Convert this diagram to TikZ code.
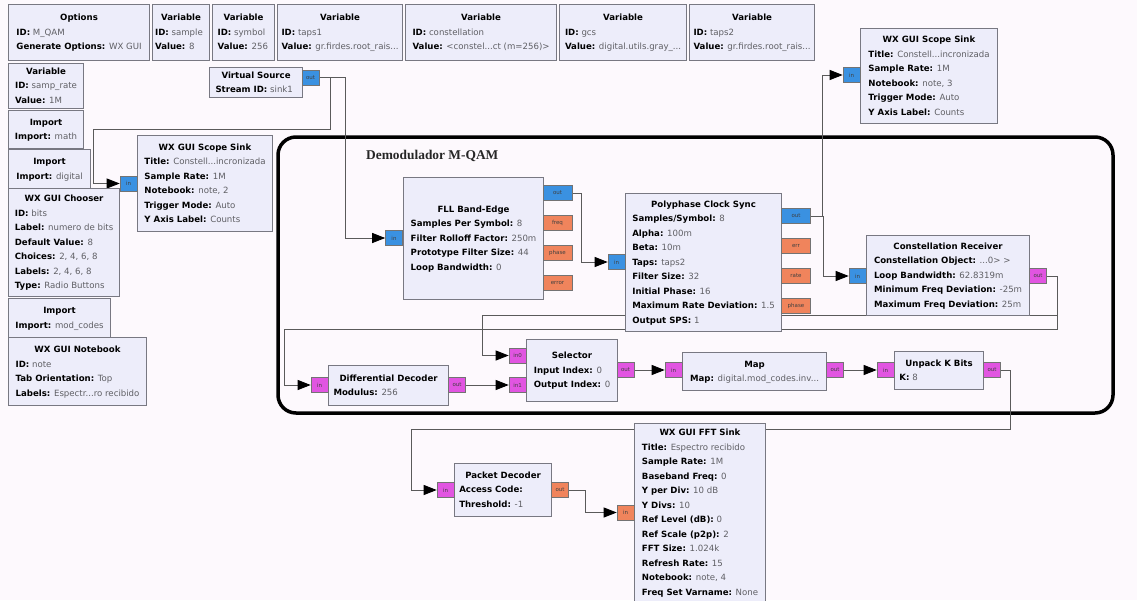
\documentclass[tikz,border=0pt]{standalone}
\usepackage{fontspec}
\setmainfont{DejaVu Sans}
\newfontfamily\grpfont{Liberation Serif}
\usetikzlibrary{arrows.meta}

\definecolor{bgcol}{RGB}{253,249,253}
\definecolor{blockfill}{RGB}{237,237,250}
\definecolor{blockline}{RGB}{120,120,130}
\definecolor{wirecol}{RGB}{90,90,90}
\definecolor{valcol}{RGB}{95,95,100}
\definecolor{portblue}{RGB}{58,145,225}
\definecolor{portorange}{RGB}{240,132,92}
\definecolor{portmagenta}{RGB}{225,85,225}

\pgfdeclarelayer{bg}
\pgfsetlayers{bg,main}

% key: value line inside a block
\newcommand{\kv}[2]{\textbf{#1:} \textcolor{valcol}{#2}}
% title + parameter lines
\newcommand{\blocktext}[2]{\begin{tabular}{@{}l@{}}\multicolumn{1}{c}{\textbf{#1}}\\#2\end{tabular}}

\tikzset{
  block/.style={draw=blockline, fill=blockfill, line width=1.1pt, anchor=north west,
    inner sep=0pt, font=\fontsize{8.6}{14.5}\selectfont},
  port/.style={draw=black!55, line width=0.6pt, minimum width=17pt, minimum height=15pt,
    inner sep=0pt, font=\fontsize{5.5}{5.5}\selectfont, text=black!75},
  wideport/.style={port, minimum width=29pt},
  wire/.style={draw=wirecol, line width=0.9pt, -{Triangle[length=13pt,width=10pt,color=black]}},
}

\begin{document}
\begin{tikzpicture}[x=1pt,y=-1pt]
  \useasboundingbox (0,0) rectangle (1137,600);

  % variables and options along the top
  \node[block, minimum width=141pt, minimum height=56pt] (options) at (8,4) {\blocktext{Options}{\kv{ID}{M\_QAM}\\\kv{Generate Options}{WX GUI}}};
  \node[block, minimum width=57pt, minimum height=56pt] (varsample) at (152,4) {\blocktext{Variable}{\kv{ID}{sample}\\\kv{Value}{8}}};
  \node[block, minimum width=62pt, minimum height=56pt] (varsymbol) at (212,4) {\blocktext{Variable}{\kv{ID}{symbol}\\\kv{Value}{256}}};
  \node[block, minimum width=125pt, minimum height=56pt] (vartaps1) at (277,4) {\blocktext{Variable}{\kv{ID}{taps1}\\\kv{Value}{gr.firdes.root\_rais...}}};
  \node[block, minimum width=151pt, minimum height=56pt] (varconst) at (405,4) {\blocktext{Variable}{\kv{ID}{constellation}\\\kv{Value}{<constel...ct (m=256)>}}};
  \node[block, minimum width=127pt, minimum height=56pt] (vargcs) at (559,4) {\blocktext{Variable}{\kv{ID}{gcs}\\\kv{Value}{digital.utils.gray\_...}}};
  \node[block, minimum width=125pt, minimum height=56pt] (vartaps2) at (689,4) {\blocktext{Variable}{\kv{ID}{taps2}\\\kv{Value}{gr.firdes.root\_rais...}}};

  % left column
  \node[block, minimum width=75pt, minimum height=45pt] (samprate) at (8,63) {\blocktext{Variable}{\kv{ID}{samp\_rate}\\\kv{Value}{1M}}};
  \node[block, minimum width=75pt, minimum height=38pt] (importmath) at (8,110) {\blocktext{Import}{\kv{Import}{math}}};
  \node[block, minimum width=82pt, minimum height=39pt] (importdig) at (8,149) {\blocktext{Import}{\kv{Import}{digital}}};
  \node[block, minimum width=111pt, minimum height=108pt] (chooser) at (8,188) {\blocktext{WX GUI Chooser}{\kv{ID}{bits}\\\kv{Label}{numero de bits}\\\kv{Default Value}{8}\\\kv{Choices}{2, 4, 6, 8}\\\kv{Labels}{2, 4, 6, 8}\\\kv{Type}{Radio Buttons}}};
  \node[block, minimum width=102pt, minimum height=39pt] (importmod) at (8,298) {\blocktext{Import}{\kv{Import}{mod\_codes}}};
  \node[block, minimum width=138pt, minimum height=68pt] (notebook) at (8,337) {\blocktext{WX GUI Notebook}{\kv{ID}{note}\\\kv{Tab Orientation}{Top}\\\kv{Labels}{Espectr...ro recibido}}};

  % sources and sinks
  \node[block, minimum width=93pt, minimum height=30pt] (vsource) at (209,67) {\blocktext{Virtual Source}{\kv{Stream ID}{sink1}}};
  \node[port, fill=portblue] (vsrcout) at (310.5,77.5) {out};
  \node[block, minimum width=135pt, minimum height=96pt] (scope2) at (137,135) {\blocktext{WX GUI Scope Sink}{\kv{Title}{Constell...incronizada}\\\kv{Sample Rate}{1M}\\\kv{Notebook}{note, 2}\\\kv{Trigger Mode}{Auto}\\\kv{Y Axis Label}{Counts}}};
  \node[port, fill=portblue] (scope2in) at (128.5,183.5) {in};
  \node[block, minimum width=137pt, minimum height=95pt] (scope3) at (860,28) {\blocktext{WX GUI Scope Sink}{\kv{Title}{Constell...incronizada}\\\kv{Sample Rate}{1M}\\\kv{Notebook}{note, 3}\\\kv{Trigger Mode}{Auto}\\\kv{Y Axis Label}{Counts}}};
  \node[port, fill=portblue] (scope3in) at (851.5,75) {in};

  % demodulator chain
  \node[block, minimum width=140pt, minimum height=122pt] (fll) at (403,177) {\blocktext{FLL Band-Edge}{\kv{Samples Per Symbol}{8}\\\kv{Filter Rolloff Factor}{250m}\\\kv{Prototype Filter Size}{44}\\\kv{Loop Bandwidth}{0}}};
  \node[port, fill=portblue] (fllin) at (394,238) {in};
  \node[wideport, fill=portblue] (fllout) at (557.5,193) {out};
  \node[wideport, fill=portorange] (fllfreq) at (557.5,223) {freq};
  \node[wideport, fill=portorange] (fllphase) at (557.5,253) {phase};
  \node[wideport, fill=portorange] (fllerror) at (557.5,283) {error};

  \node[block, minimum width=156pt, minimum height=138pt] (pcs) at (625,193) {\blocktext{Polyphase Clock Sync}{\kv{Samples/Symbol}{8}\\\kv{Alpha}{100m}\\\kv{Beta}{10m}\\\kv{Taps}{taps2}\\\kv{Filter Size}{32}\\\kv{Initial Phase}{16}\\\kv{Maximum Rate Deviation}{1.5}\\\kv{Output SPS}{1}}};
  \node[port, fill=portblue] (pcsin) at (616.5,262) {in};
  \node[wideport, fill=portblue] (pcsout) at (796,216) {out};
  \node[wideport, fill=portorange] (pcserr) at (796,246) {err};
  \node[wideport, fill=portorange] (pcsrate) at (796,276) {rate};
  \node[wideport, fill=portorange] (pcsphase) at (796,306) {phase};

  \node[block, minimum width=163pt, minimum height=80pt] (crecv) at (866,235) {\blocktext{Constellation Receiver}{\kv{Constellation Object}{...0> >}\\\kv{Loop Bandwidth}{62.8319m}\\\kv{Minimum Freq Deviation}{-25m}\\\kv{Maximum Freq Deviation}{25m}}};
  \node[port, fill=portblue] (crecvin) at (857.5,276) {in};
  \node[port, fill=portmagenta] (crecvout) at (1038,276) {out};

  \node[block, minimum width=120pt, minimum height=40pt] (diffdec) at (328,365) {\blocktext{Differential Decoder}{\kv{Modulus}{256}}};
  \node[port, fill=portmagenta] (diffin) at (319.5,385) {in};
  \node[port, fill=portmagenta] (diffout) at (457,385) {out};

  \node[block, minimum width=91pt, minimum height=62pt] (selector) at (526,339) {\blocktext{Selector}{\kv{Input Index}{0}\\\kv{Output Index}{0}}};
  \node[port, fill=portmagenta] (selin0) at (517.5,355.5) {in0};
  \node[port, fill=portmagenta] (selin1) at (517.5,385) {in1};
  \node[port, fill=portmagenta] (selout) at (625.5,370) {out};

  \node[block, minimum width=144pt, minimum height=38pt] (map) at (682,352) {\blocktext{Map}{\kv{Map}{digital.mod\_codes.inv...}}};
  \node[port, fill=portmagenta] (mapin) at (673.5,370) {in};
  \node[port, fill=portmagenta] (mapout) at (835,370) {out};

  \node[block, minimum width=89pt, minimum height=38pt] (unpack) at (894,351) {\blocktext{Unpack K Bits}{\kv{K}{8}}};
  \node[port, fill=portmagenta] (unpin) at (885.5,370) {in};
  \node[port, fill=portmagenta] (unpout) at (992,370) {out};

  % decoding and spectrum below the group
  \node[block, minimum width=97pt, minimum height=53pt] (pktdec) at (454,463) {\blocktext{Packet Decoder}{\kv{Access Code}{}\\\kv{Threshold}{-1}}};
  \node[port, fill=portmagenta] (pktin) at (445.5,490) {in};
  \node[port, fill=portorange] (pktout) at (560,490) {out};

  \node[block, minimum width=131pt, minimum height=178pt] (fft) at (634,423) {\blocktext{WX GUI FFT Sink}{\kv{Title}{Espectro recibido}\\\kv{Sample Rate}{1M}\\\kv{Baseband Freq}{0}\\\kv{Y per Div}{10 dB}\\\kv{Y Divs}{10}\\\kv{Ref Level (dB)}{0}\\\kv{Ref Scale (p2p)}{2}\\\kv{FFT Size}{1.024k}\\\kv{Refresh Rate}{15}\\\kv{Notebook}{note, 4}\\\kv{Freq Set Varname}{None}}};
  \node[port, fill=portorange] (fftin) at (625.5,512.5) {in};

  \node[anchor=west, font=\grpfont\bfseries\fontsize{13.4}{13.4}\selectfont, text=black!85, inner sep=0pt] (grplabel) at (366,156) {Demodulador M-QAM};

  \begin{pgfonlayer}{bg}
    \fill[bgcol] (0,0) rectangle (1137,600); % canvas
    \draw[line width=3.5pt, rounded corners=18pt] (278,137) rectangle (1113,413); % group frame

    \draw[wire] (vsrcout.east) -| ([xshift=-40pt]fllin.west) -- (fllin.west);
    \draw[wire] (vsrcout.east) -- ++(11,0) |- (93,129) |- (scope2in.west);
    \draw[wire] (fllout.east) -| ([xshift=-26pt]pcsin.west) -- (pcsin.west);
    \draw[wire] (pcsout.east) -| ([xshift=-20pt]scope3in.west) -- (scope3in.west);
    \draw[wire] (pcsout.east) -| ([xshift=-25pt]crecvin.west) -- (crecvin.west);
    \draw[wire] (crecvout.east) -| (1057,315) -| ([xshift=-26pt]selin0.west) -- (selin0.west);
    \draw[wire] (crecvout.east) -| (1057,329) -| ([xshift=-26pt]diffin.west) -- (diffin.west);
    \draw[wire] (diffout) -- (selin1);
    \draw[wire] (selout) -- (mapin);
    \draw[wire] (mapout) -- (unpin);
    \draw[wire] (unpout.east) -| (1010,429) -| ([xshift=-25pt]pktin.west) -- (pktin.west);
    \draw[wire] (pktout.east) -| ([xshift=-31pt]fftin.west) -- (fftin.west);
  \end{pgfonlayer}
\end{tikzpicture}
\end{document}
